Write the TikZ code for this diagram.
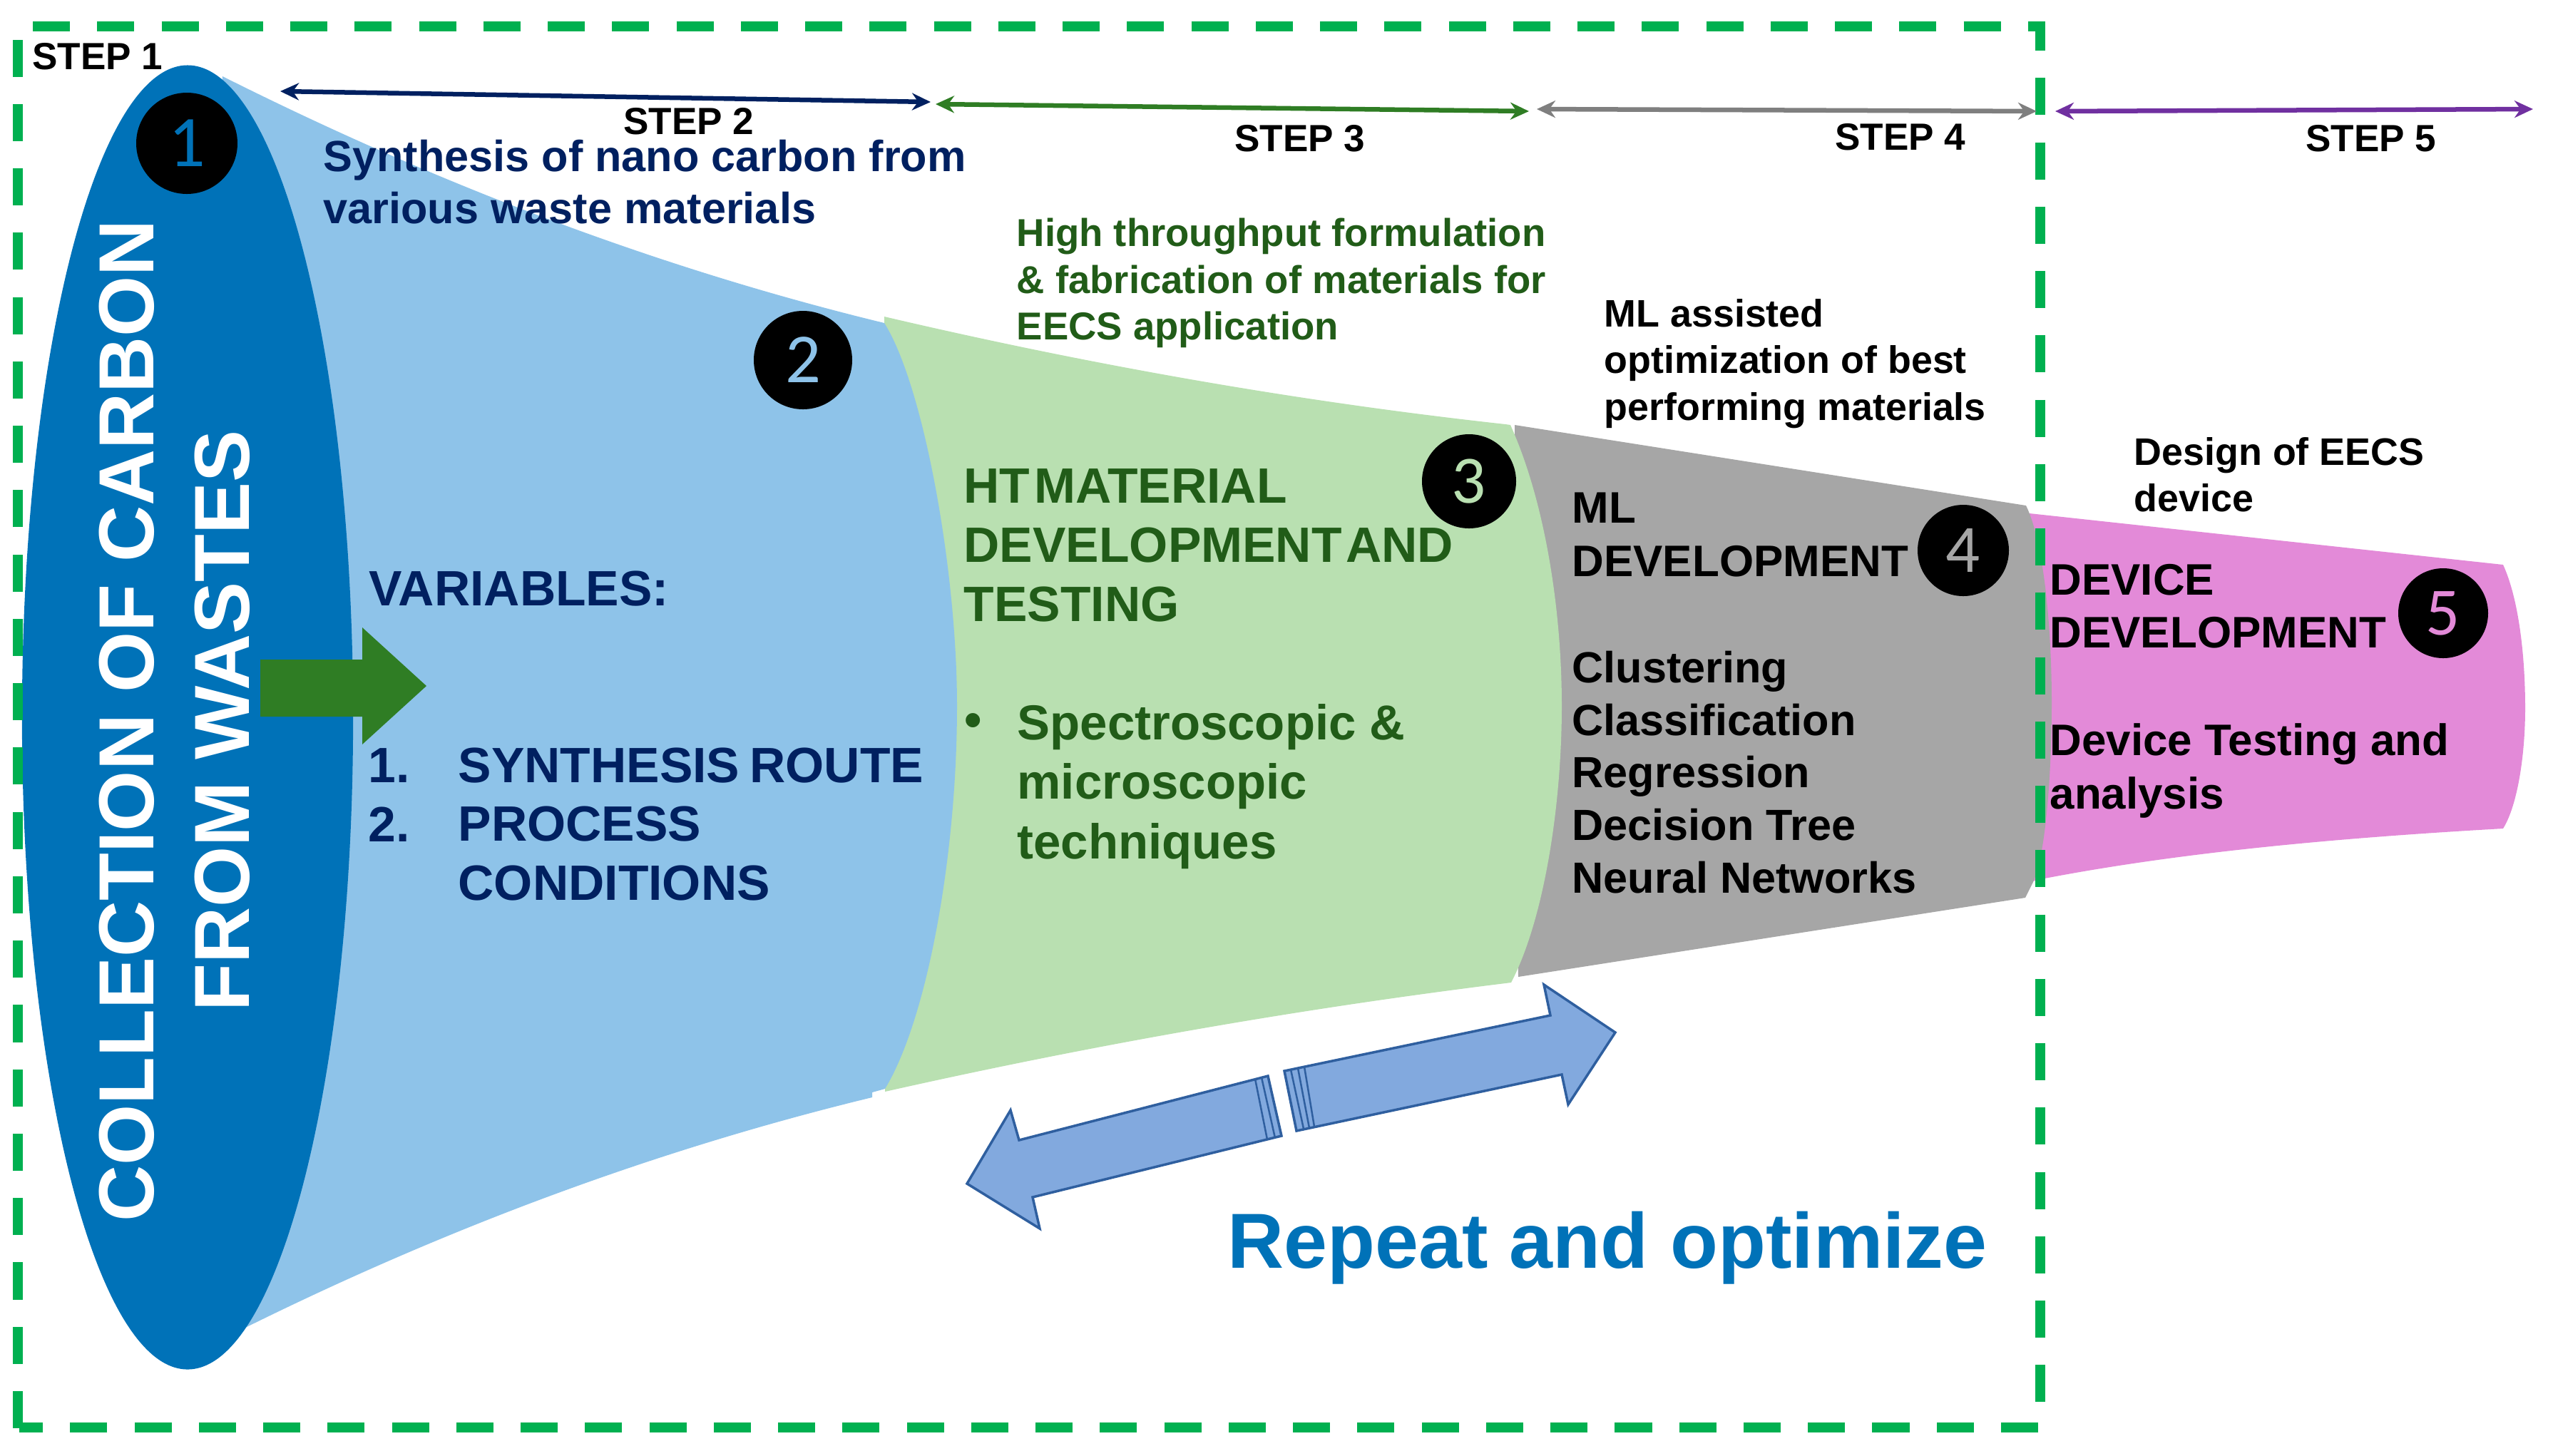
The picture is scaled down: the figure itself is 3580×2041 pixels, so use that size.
\documentclass[tikz,border=0pt]{standalone}
\usepackage{fontspec}
\setmainfont{Liberation Sans}
\newfontfamily\digitfont{Carlito}
\usetikzlibrary{arrows.meta}
\definecolor{boxgreen}{HTML}{00B050}
\definecolor{deepblue}{HTML}{0072B8}
\definecolor{lightblue}{HTML}{8EC3E9}
\definecolor{lightgreen}{HTML}{B9E0B1}
\definecolor{midgrey}{HTML}{A6A6A6}
\definecolor{pinkish}{HTML}{E38AD8}
\definecolor{navy}{HTML}{002060}
\definecolor{darkgreen}{HTML}{215C18}
\definecolor{arrowgreen}{HTML}{2F7D24}
\definecolor{stepgrey}{HTML}{7F7F7F}
\definecolor{steppurple}{HTML}{7030A0}
\definecolor{dblfill}{HTML}{82A9DE}
\definecolor{dblline}{HTML}{2F5F9F}
\newcommand{\ns}{\hspace{.08em}}
\tikzset{
  num/.style={circle,fill=black,inner sep=0pt,minimum size=#1*0.01cm,font=\digitfont\fontsize{27}{27}\selectfont},
  steplabel/.style={inner sep=0pt,font=\bfseries\fontsize{15.1}{18}\selectfont},
  sub/.style={inner sep=0pt,anchor=west,align=left,font=\bfseries\fontsize{15.3}{18.6}\selectfont},
  sizeA/.style={inner sep=0pt,anchor=west,align=left,font=\bfseries\fontsize{19.8}{23.6}\selectfont},
  sizeB/.style={inner sep=0pt,anchor=west,align=left,font=\bfseries\fontsize{17.6}{21.1}\selectfont},
  steparrow/.style={line width=0.065cm,{Stealth[length=0.26cm,width=0.24cm]}-{Stealth[length=0.26cm,width=0.24cm]}},
  dbl/.style={fill=dblfill,draw=dblline,line width=0.035cm,line join=miter},
  stripe/.style={draw=dblline,line width=0.025cm},
  frameline/.style={boxgreen,line width=0.14cm,dash pattern=on 0.52cm off 0.382cm}
}
\begin{document}
\begin{tikzpicture}[x=0.01cm,y=-0.01cm]
\useasboundingbox (0,0) rectangle (3580,2041);
% funnel bands, right to left
\fill[pinkish] (2846,720) -- (3510,792) .. controls (3532,840) and (3541,920) .. (3541,993)
  .. controls (3541,1060) and (3530,1130) .. (3510,1162) .. controls (3280,1175) and (3060,1195) .. (2867,1232) -- (2850,1236) -- cycle;
\fill[midgrey] (2124,596) -- (2841,709) .. controls (2866,760) and (2877,880) .. (2877,985)
  .. controls (2877,1090) and (2868,1200) .. (2851,1237) -- (2840,1259) -- (2129,1370) -- cycle;
\fill[lightgreen] (1240,444) .. controls (1530,512) and (1820,563) .. (2111,595) -- (2118,596)
  .. controls (2165,700) and (2190,850) .. (2190,990) .. controls (2190,1130) and (2165,1290) .. (2119,1378)
  .. controls (1826,1414) and (1534,1465) .. (1241,1531) -- (1241,987) -- cycle;
\fill[lightblue] (312,107) .. controls (621,262) and (931,378) .. (1240,453)
  .. controls (1295,540) and (1342,800) .. (1342,990) .. controls (1342,1200) and (1300,1430) .. (1241,1527)
  -- (1223,1532) -- (1223,1539) .. controls (930,1610) and (637,1717) .. (344,1862) -- (264,1006) -- cycle;
\fill[deepblue] (263,1006) ellipse [x radius=2.32cm,y radius=9.14cm];
% dashed frame
\coordinate (ft1) at (46,37); \coordinate (ft2) at (2868,37);
\coordinate (fr1) at (2861,30); \coordinate (fr2) at (2861,1970);
\coordinate (fb1) at (2858,2002); \coordinate (fb2) at (27,2002);
\coordinate (fl1) at (25,2003); \coordinate (fl2) at (25,56);
\draw[frameline] (ft1) -- (ft2);
\draw[frameline,dash phase=0.11cm] (fr1) -- (fr2);
\draw[frameline] (fb1) -- (fb2);
\draw[frameline] (fl1) -- (fl2);
% numbered badges
\node[num=142,text=deepblue,font=\digitfont\fontsize{29}{29}\selectfont] (n1) at (262,201) {1};
\node[num=138,text=lightblue,font=\digitfont\fontsize{28}{28}\selectfont] (n2) at (1126,505) {2};
\node[num=132,text=lightgreen] (n3) at (2060,675) {3};
\node[num=128,text=midgrey] (n4) at (2753,772) {4};
\node[num=126,text=pinkish] (n5) at (3426,860) {5};
% step dimension arrows
\coordinate (s2a) at (393,128); \coordinate (s2b) at (1305,143);
\coordinate (s3a) at (1312,146); \coordinate (s3b) at (2144,156);
\coordinate (s4a) at (2155,153); \coordinate (s4b) at (2856,156);
\coordinate (s5a) at (2882,156); \coordinate (s5b) at (3552,153);
\draw[steparrow,navy] (s2a) -- (s2b);
\draw[steparrow,arrowgreen] (s3a) -- (s3b);
\draw[steparrow,stepgrey] (s4a) -- (s4b);
\draw[steparrow,steppurple] (s5a) -- (s5b);
\node[steplabel] (l1) at (137,79) {STEP 1};
\node[steplabel] (l2) at (966,170) {STEP 2};
\node[steplabel] (l3) at (1823,194) {STEP 3};
\node[steplabel] (l4) at (2665,192) {STEP 4};
\node[steplabel] (l5) at (3325,194) {STEP 5};
% captions
\node[sub,navy,font=\bfseries\fontsize{17.4}{20.9}\selectfont] (t2) at (453,255) {Synthesis of nano carbon from\\various waste materials};
\node[sub,darkgreen,font=\bfseries\fontsize{15.5}{18.6}\selectfont] (t3) at (1425,397) {High throughput formulation\\\& fabrication of materials for\\EECS application};
\node[sub] (t4) at (2249,510) {ML assisted\\optimization of best\\performing materials};
\node[sub] (t5) at (2992,666) {Design of EECS\\device};
% rotated title
\node[inner sep=0pt,rotate=90,text=white,font=\bfseries\fontsize{31.15}{38}\selectfont,align=center] (t1) at (245,1011) {COLLECTION OF CARBON\\FROM WASTES};
% body text
\node[sizeA,navy] (var) at (517,826) {VARIABLES:};
\node[sizeA,navy] (vn) at (516,1115) {1.\\2.};
\node[sizeA,navy] (vl) at (642,1156) {SYNTHESIS\hspace{.2em}ROUTE\\PROCESS\\CONDITIONS};
\node[sizeA,darkgreen] (ht) at (1351,765) {HT\ns MATERIAL\\DEVELOPMENT\ns AND\\TESTING};
\node[sizeA,darkgreen] (bul) at (1352,1017) {\textbullet};
\node[sizeA,darkgreen,font=\bfseries\fontsize{19.6}{23.8}\selectfont] (sp) at (1426,1103) {Spectroscopic \&\\microscopic\\techniques};
\node[sizeB] (ml) at (2204,750) {ML\\DEVELOPMENT};
\node[sizeB,font=\bfseries\fontsize{17.4}{21}\selectfont] (cl) at (2204,1083) {Clustering\\Classification\\Regression\\Decision Tree\\Neural Networks};
\node[sizeB] (dv) at (2874,850) {DEVICE\\DEVELOPMENT};
\node[sizeB,font=\bfseries\fontsize{17.6}{21.4}\selectfont] (dt) at (2874,1081) {Device Testing and\\analysis};
\node[inner sep=0pt,text=deepblue,font=\bfseries\fontsize{31.15}{36}\selectfont] (rep) at (2254,1750) {Repeat and optimize};
% green block arrow
\fill[arrowgreen] (365,925) -- (508,925) -- (508,880) -- (598,962) -- (508,1044) -- (508,1005) -- (365,1005) -- cycle;
% broken double arrow
\path[dbl] (1778,1509) -- (1429,1599) -- (1417,1557) -- (1356,1660) -- (1458,1723) -- (1448,1679) -- (1797,1593) -- cycle;
\path[dbl] (1801,1502) -- (2174,1424) -- (2165,1381) -- (2265,1448) -- (2199,1549) -- (2190,1507) -- (1818,1586) -- cycle;
\draw[stripe] (1760,1513) -- (1777,1598) (1769,1511) -- (1788,1596);
\draw[stripe] (1810,1500) -- (1828,1583) (1820,1498) -- (1836,1582) (1829,1496) -- (1843,1580);
\end{tikzpicture}
\end{document}
